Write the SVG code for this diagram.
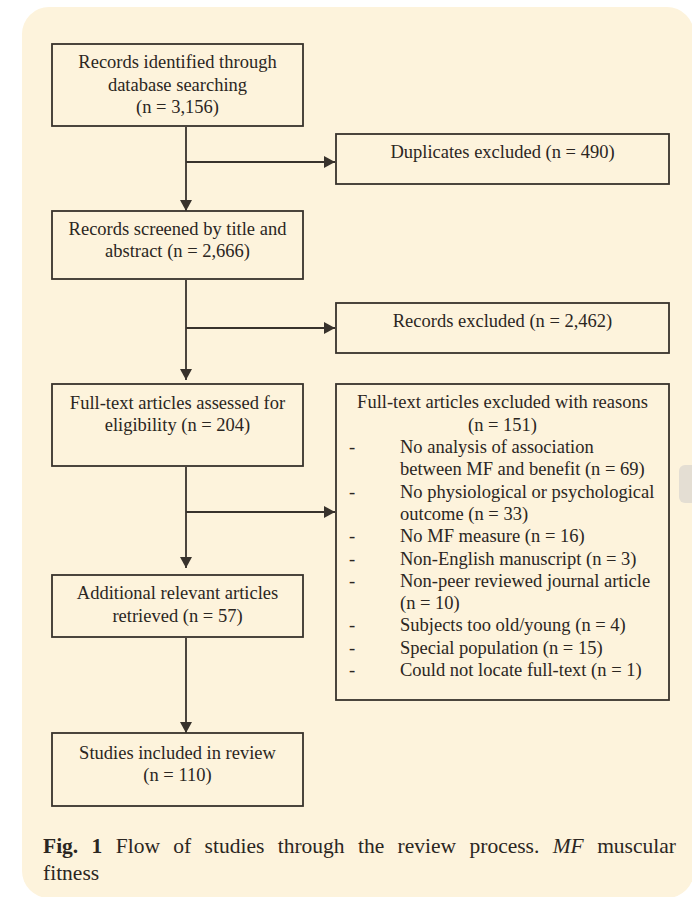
<svg xmlns="http://www.w3.org/2000/svg" width="692" height="897" viewBox="0 0 692 897">
  <style>
    .box { fill: none; stroke: #38322c; stroke-width: 1.8; }
    .t { font-family: "Liberation Serif", "Times New Roman", serif; font-size: 18.5px; fill: #2b2622; }
    .c { text-anchor: middle; }
    .cap { font-family: "Liberation Serif", "Times New Roman", serif; font-size: 21.5px; fill: #2b2622; }
    .conn { fill: none; stroke: #38322c; stroke-width: 1.8; }
  </style>
  <defs>
    <marker id="arrow" markerUnits="userSpaceOnUse" markerWidth="12" markerHeight="13" refX="11" refY="6" orient="auto">
      <path d="M0,0 L11,6 L0,12 z" fill="#38322c"/>
    </marker>
  </defs>

  <rect x="22" y="7" width="672" height="891" rx="27" fill="#fdf3dc"/>
  <rect x="679" y="465" width="20" height="38" rx="6" fill="#e4ded3"/>

  <g id="connectors">
    <line class="conn" x1="186" y1="127" x2="186" y2="211" marker-end="url(#arrow)"/>
    <line class="conn" x1="186" y1="162" x2="335" y2="162" marker-end="url(#arrow)"/>
    <line class="conn" x1="186" y1="280" x2="186" y2="380" marker-end="url(#arrow)"/>
    <line class="conn" x1="186" y1="328" x2="335" y2="328" marker-end="url(#arrow)"/>
    <line class="conn" x1="186" y1="467" x2="186" y2="568" marker-end="url(#arrow)"/>
    <line class="conn" x1="186" y1="512" x2="335" y2="512" marker-end="url(#arrow)"/>
    <line class="conn" x1="186" y1="638" x2="186" y2="733" marker-end="url(#arrow)"/>
  </g>

  <g id="identified">
    <rect class="box" x="52" y="44" width="251" height="82"/>
    <text class="t c" x="177.5" y="68">Records identified through</text>
    <text class="t c" x="177.5" y="91">database searching</text>
    <text class="t c" x="177.5" y="113">(n = 3,156)</text>
  </g>

  <g id="duplicates">
    <rect class="box" x="336" y="134" width="333" height="50"/>
    <text class="t c" x="502.5" y="158">Duplicates excluded (n = 490)</text>
  </g>

  <g id="screened">
    <rect class="box" x="52" y="211" width="251" height="68"/>
    <text class="t c" x="177.5" y="235">Records screened by title and</text>
    <text class="t c" x="177.5" y="257">abstract (n = 2,666)</text>
  </g>

  <g id="records-excluded">
    <rect class="box" x="336" y="303" width="333" height="50"/>
    <text class="t c" x="502.5" y="327">Records excluded (n = 2,462)</text>
  </g>

  <g id="fulltext">
    <rect class="box" x="52" y="384" width="251" height="82"/>
    <text class="t c" x="177.5" y="409">Full-text articles assessed for</text>
    <text class="t c" x="177.5" y="431">eligibility (n = 204)</text>
  </g>

  <g id="fulltext-excluded">
    <rect class="box" x="336" y="384" width="333" height="316"/>
    <text class="t c" x="502.5" y="408">Full-text articles excluded with reasons</text>
    <text class="t c" x="502.5" y="431">(n = 151)</text>
    <g class="t">
      <text x="349" y="453">-</text>
      <text x="400" y="453">No analysis of association</text>
      <text x="400" y="475.3">between MF and benefit (n = 69)</text>
      <text x="349" y="497.6">-</text>
      <text x="400" y="497.6">No physiological or psychological</text>
      <text x="400" y="519.9">outcome (n = 33)</text>
      <text x="349" y="542.2">-</text>
      <text x="400" y="542.2">No MF measure (n = 16)</text>
      <text x="349" y="564.5">-</text>
      <text x="400" y="564.5">Non-English manuscript (n = 3)</text>
      <text x="349" y="586.8">-</text>
      <text x="400" y="586.8">Non-peer reviewed journal article</text>
      <text x="400" y="609.1">(n = 10)</text>
      <text x="349" y="631.4">-</text>
      <text x="400" y="631.4">Subjects too old/young (n = 4)</text>
      <text x="349" y="653.7">-</text>
      <text x="400" y="653.7">Special population (n = 15)</text>
      <text x="349" y="676">-</text>
      <text x="400" y="676">Could not locate full-text (n = 1)</text>
    </g>
  </g>

  <g id="additional">
    <rect class="box" x="52" y="575" width="251" height="62"/>
    <text class="t c" x="177.5" y="599">Additional relevant articles</text>
    <text class="t c" x="177.5" y="622">retrieved (n = 57)</text>
  </g>

  <g id="included">
    <rect class="box" x="52" y="733" width="251" height="73"/>
    <text class="t c" x="177.5" y="759">Studies included in review</text>
    <text class="t c" x="177.5" y="781">(n = 110)</text>
  </g>

  <g id="caption">
    <text class="cap" x="43" y="853" word-spacing="8"><tspan font-weight="bold">Fig. 1</tspan> Flow of studies through the review process. <tspan font-style="italic">MF</tspan> muscular</text>
    <text class="cap" x="43" y="880">fitness</text>
  </g>
</svg>
